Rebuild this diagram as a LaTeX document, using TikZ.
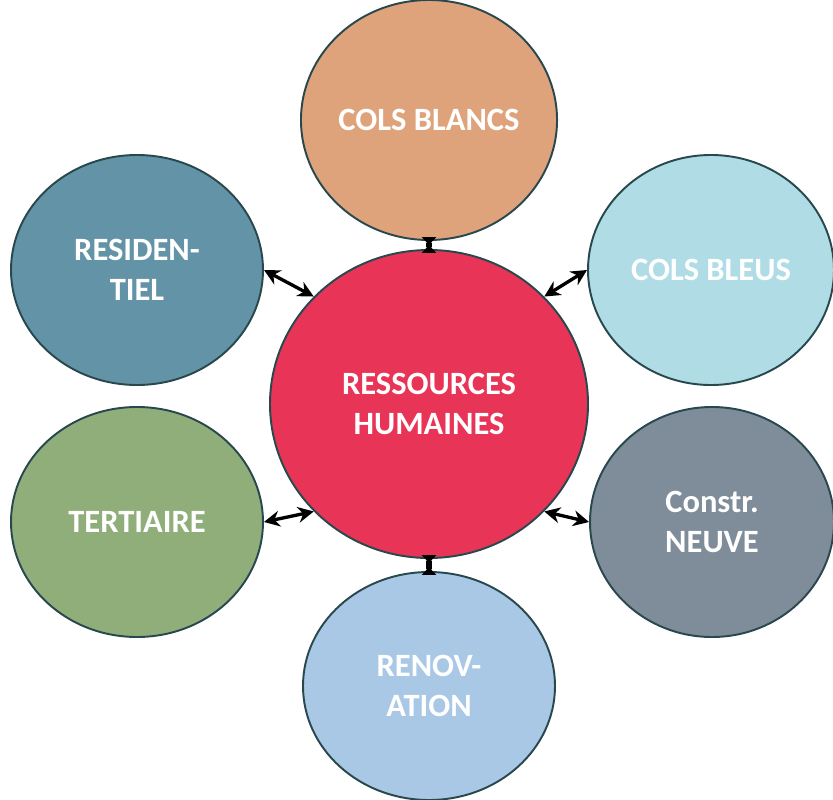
\documentclass[tikz,border=0pt]{standalone}
\usepackage{fontspec}
\setmainfont{Carlito}
\usetikzlibrary{arrows.meta}

\definecolor{rim}{RGB}{40,72,78}
\definecolor{cblancs}{RGB}{223,163,123}
\definecolor{cresid}{RGB}{99,147,166}
\definecolor{cbleus}{RGB}{176,220,230}
\definecolor{crh}{RGB}{232,52,87}
\definecolor{ctert}{RGB}{143,174,122}
\definecolor{cneuve}{RGB}{127,140,154}
\definecolor{crenov}{RGB}{168,200,230}

\tikzset{
    bubble/.style={ellipse, draw=rim, line width=1.1pt, inner sep=0pt, align=center,
        text=white, font=\bfseries\fontsize{18.5}{23}\selectfont,
        minimum width=5.04cm, minimum height=4.6cm},
    link/.style={{Stealth[length=9pt,width=9pt]}-{Stealth[length=9pt,width=9pt]}, line width=1.9pt, black},
    shortlink/.style={{Triangle[reversed,length=4.5pt,width=8pt]}-{Triangle[reversed,length=4.5pt,width=8pt]},
        line width=3.4pt, black, shorten <=-2.2pt, shorten >=-2.2pt}
}

\usetikzlibrary{shapes.geometric}

\begin{document}
\begin{tikzpicture}
        \useasboundingbox (0,0) rectangle (16.66,15.98);

        \node[bubble, fill=crh, minimum width=6.36cm, minimum height=6.16cm] (rh) at (8.58, 7.90) {RESSOURCES\\HUMAINES};

        \node[bubble, fill=cblancs, minimum height=4.8cm] (blancs) at (8.58, 13.58) {COLS BLANCS};
        \node[bubble, fill=crenov, minimum height=4.56cm] (renov) at (8.58, 2.26) {RENOV-\\ATION};

        \node[bubble, fill=cresid] (resid) at (2.74, 10.58) {RESIDEN-\\TIEL};
        \node[bubble, fill=cbleus, minimum width=4.92cm] (bleus) at (14.22, 10.58) {COLS BLEUS};

        \node[bubble, fill=ctert] (tert) at (2.74, 5.54) {TERTIAIRE};
        \node[bubble, fill=cneuve, minimum width=4.88cm] (neuve) at (14.24, 5.54) {Constr.\\NEUVE};

        \draw[shortlink] (rh.90) -- (blancs.270);
        \draw[shortlink] (rh.270) -- (renov.90);

        \draw[link] (resid.0) -- (rh.137);
        \draw[link] (bleus.180) -- (rh.43);
        \draw[link] (tert.0) -- (rh.223);
        \draw[link] (neuve.180) -- (rh.317);

    \end{tikzpicture}
\end{document}
